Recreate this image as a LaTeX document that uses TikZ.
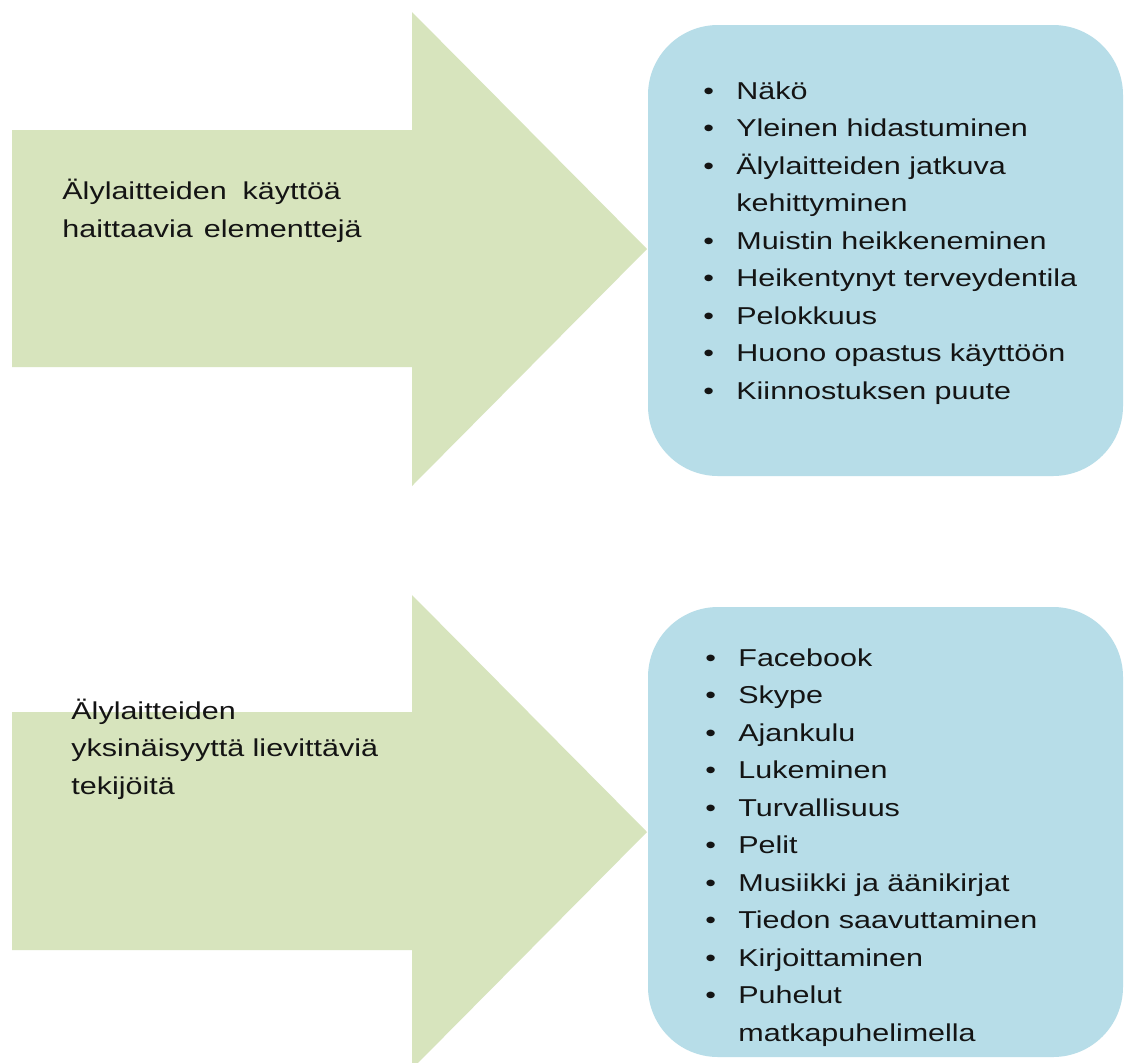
\documentclass[tikz,border=0pt]{standalone}
\usepackage{fontspec}
\setmainfont{Liberation Sans}[FakeStretch=1.25]
\definecolor{arrowgreen}{HTML}{D7E4BD}
\definecolor{boxblue}{HTML}{B7DDE8}
\definecolor{txt}{HTML}{141414}
\newcommand{\bul}{\makebox[16.5pt][l]{\textbullet}}
\newcommand{\nobul}{\makebox[16.5pt][l]{}}
\begin{document}
\begin{tikzpicture}[x=0.5pt,y=-0.5pt,
  arrowshape/.style={fill=arrowgreen,draw=none},
  listbox/.style={fill=boxblue,draw=none,rounded corners=35pt},
  lbl/.style={anchor=base west,inner sep=0pt,text=txt,align=left,
    font=\fontsize{12.2}{18.75}\selectfont},
  listtext/.style={anchor=base west,inner sep=0pt,text=txt,
    font=\fontsize{12.2}{18.75}\selectfont}]
\path[use as bounding box,clip] (0,0) rectangle (1125,1062);
\fill[white] (0,0) rectangle (1125,1062);
% top arrow
\path[arrowshape] (12,130) -- (412,130) -- (412,12) -- (647,249) -- (412,486) -- (412,367) -- (12,367) -- cycle;
% bottom arrow
\path[arrowshape] (12,712) -- (412,712) -- (412,595) -- (647,832) -- (412,1069) -- (412,950) -- (12,950) -- cycle;
% boxes
\path[listbox] (648,25) rectangle (1123,476);
\path[listbox] (648,607) rectangle (1123,1057);
% left labels
\node[lbl] (lab1) at (62,237) {Älylaitteiden\hspace{0.3em} käyttöä\\haittaavia\hspace{0.1em} elementtejä};
\node[lbl] (lab2) at (71,794) {Älylaitteiden\\yksinäisyyttä lievittäviä\\tekijöitä};
% lists
\node[listtext] (list1) at (703,99) {\begin{tabular}[t]{@{}l@{}}
\bul Näkö\\
\bul Yleinen hidastuminen\\
\bul Älylaitteiden jatkuva\\
\nobul kehittyminen\\
\bul Muistin heikkeneminen\\
\bul Heikentynyt terveydentila\\
\bul Pelokkuus\\
\bul Huono opastus käyttöön\\
\bul Kiinnostuksen puute
\end{tabular}};
\node[listtext] (list2) at (705,666) {\begin{tabular}[t]{@{}l@{}}
\bul Facebook\\
\bul Skype\\
\bul Ajankulu\\
\bul Lukeminen\\
\bul Turvallisuus\\
\bul Pelit\\
\bul Musiikki ja äänikirjat\\
\bul Tiedon saavuttaminen\\
\bul Kirjoittaminen\\
\bul Puhelut\\
\nobul matkapuhelimella
\end{tabular}};
\end{tikzpicture}
\end{document}
